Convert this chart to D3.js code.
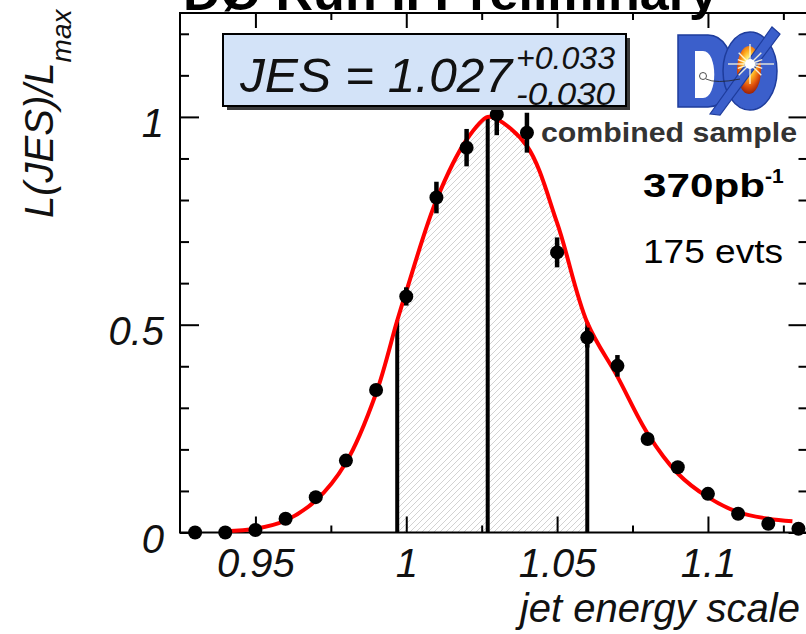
<!DOCTYPE html>
<html><head><meta charset="utf-8">
<script src="https://cdn.jsdelivr.net/npm/d3@7"></script>
<style>
html,body{margin:0;padding:0;background:#fff;}
svg{display:block;}
text{font-family:"Liberation Sans",Arial,Helvetica,sans-serif;}
</style></head>
<body>
<svg id="chart" width="806" height="634"></svg>
<script>
// Normalised likelihood scan vs. jet energy scale
const jesPoints     = [0.93, 0.94, 0.95, 0.96, 0.97, 0.98, 0.99, 1.00, 1.01, 1.02, 1.03,
                       1.04, 1.05, 1.06, 1.07, 1.08, 1.09, 1.10, 1.11, 1.12, 1.13];
const likelihood    = [0.000, 0.000, 0.006, 0.033, 0.085, 0.173, 0.343, 0.568, 0.806, 0.926, 1.006,
                       0.962, 0.674, 0.469, 0.401, 0.225, 0.157, 0.093, 0.045, 0.021, 0.009];
const likelihoodErr = [0.000, 0.000, 0.004, 0.006, 0.008, 0.010, 0.012, 0.022, 0.038, 0.045, 0.050,
                       0.048, 0.036, 0.024, 0.026, 0.012, 0.010, 0.008, 0.006, 0.004, 0.003];

// Fitted curve, sampled
const fitX = [0.94, 0.95, 0.96, 0.97, 0.98, 0.99, 0.997, 1.00, 1.01, 1.02, 1.027, 1.03,
              1.04, 1.05, 1.06, 1.07, 1.08, 1.09, 1.10, 1.11, 1.12, 1.128];
const fitY = [0.003, 0.009, 0.029, 0.077, 0.168, 0.335, 0.51, 0.58, 0.80, 0.945, 1.0, 0.995,
              0.93, 0.745, 0.505, 0.375, 0.238, 0.142, 0.085, 0.049, 0.033, 0.027];

// Fit result
const jesCentral = 1.027, jesErrUp = 0.033, jesErrDown = 0.030;

const xTickValues  = [0.95, 1, 1.05, 1.1];
const xTickLabels  = ["0.95", "1", "1.05", "1.1"];
const xMinorTicks  = [0.975, 1.025, 1.075, 1.125];
const yTickValues  = [0, 0.5, 1];
const yTickLabels  = ["0", "0.5", "1"];
const yMinorTicks  = [0.1, 0.2, 0.3, 0.4, 0.6, 0.7, 0.8, 0.9, 1.1, 1.2];

const svg = d3.select("#chart");
const L = 180, R = 807.5, T = 13, B = 532.5;
const x = d3.scaleLinear().domain([0.925, 1.133]).range([L, R]);
const y = d3.scaleLinear().domain([0, 1.25]).range([B, T]);

const defs = svg.append("defs");
const hatch = defs.append("pattern").attr("id", "hatch")
  .attr("patternUnits", "userSpaceOnUse").attr("width", 6).attr("height", 6);
hatch.append("path").attr("d", "M-1,1 l2,-2 M0,6 l6,-6 M5,7 l2,-2")
  .attr("stroke", "#c6c6c6").attr("stroke-width", 0.8);

const jesLo = jesCentral - jesErrDown, jesHi = jesCentral + jesErrUp;
defs.append("clipPath").attr("id", "band").append("rect")
  .attr("x", x(jesLo)).attr("y", T).attr("width", x(jesHi) - x(jesLo)).attr("height", B - T);

const fit = fitX.map((v, i) => ({x: v, y: fitY[i]}));
const curveAt = v => fit.reduce((a, b) => Math.abs(b.x - v) < Math.abs(a.x - v) ? b : a).y;

// hatched ±1σ band under the fit
svg.append("path").datum(fit)
  .attr("clip-path", "url(#band)")
  .attr("fill", "url(#hatch)")
  .attr("d", d3.area().x(d => x(d.x)).y0(B).y1(d => y(d.y)).curve(d3.curveCatmullRom.alpha(0.5)));

// axes
function styleAxis(g) {
  g.select(".domain").remove();
  g.selectAll("line").attr("stroke", "#000").attr("stroke-width", 2);
  g.selectAll("text").attr("font-size", 40).attr("font-style", "italic").attr("fill", "#111")
    .attr("font-family", "Liberation Sans, Arial, sans-serif");
}
svg.append("g").attr("transform", `translate(0,${B})`)
  .call(d3.axisBottom(x).tickValues(xTickValues).tickSize(-16).tickPadding(16)
    .tickFormat((d, i) => xTickLabels[i])).call(styleAxis);
svg.append("g").attr("transform", `translate(0,${B})`)
  .call(d3.axisBottom(x).tickValues(xMinorTicks).tickSize(-7).tickFormat("")).call(styleAxis);
svg.append("g").attr("transform", `translate(0,${T})`)
  .call(d3.axisTop(x).tickValues(xTickValues).tickSize(-15).tickFormat("")).call(styleAxis);
svg.append("g").attr("transform", `translate(0,${T})`)
  .call(d3.axisTop(x).tickValues(xMinorTicks).tickSize(-7).tickFormat("")).call(styleAxis);

const gy = svg.append("g").attr("transform", `translate(${L},0)`)
  .call(d3.axisLeft(y).tickValues(yTickValues).tickSize(-19).tickPadding(16)
    .tickFormat((d, i) => yTickLabels[i])).call(styleAxis);
gy.selectAll("text").attr("dy", "0.5em");
svg.append("g").attr("transform", `translate(${L},0)`)
  .call(d3.axisLeft(y).tickValues(yMinorTicks).tickSize(-9).tickFormat("")).call(styleAxis);
svg.append("g").attr("transform", `translate(${R},0)`)
  .call(d3.axisRight(y).tickValues(yTickValues).tickSize(-19).tickFormat("")).call(styleAxis);
svg.append("g").attr("transform", `translate(${R},0)`)
  .call(d3.axisRight(y).tickValues(yMinorTicks).tickSize(-9).tickFormat("")).call(styleAxis);

// frame
svg.append("rect").attr("x", L).attr("y", T).attr("width", R - L).attr("height", B - T)
  .attr("fill", "none").attr("stroke", "#000").attr("stroke-width", 2);

// central value and ±1σ markers
[jesLo, jesCentral, jesHi].forEach(v => {
  svg.append("line").attr("x1", x(v)).attr("x2", x(v)).attr("y1", B).attr("y2", y(curveAt(v)))
    .attr("stroke", "#000").attr("stroke-width", 4);
});

// fit curve
svg.append("path").datum(fit)
  .attr("fill", "none").attr("stroke", "#f00").attr("stroke-width", 4)
  .attr("d", d3.line().x(d => x(d.x)).y(d => y(d.y)).curve(d3.curveCatmullRom.alpha(0.5)));

// data points with error bars
const pts = jesPoints.map((v, i) => ({x: v, y: likelihood[i], e: likelihoodErr[i]}));
svg.append("g").selectAll("line").data(pts.filter(d => d.e > 0)).join("line")
  .attr("x1", d => x(d.x)).attr("x2", d => x(d.x))
  .attr("y1", d => y(d.y - d.e)).attr("y2", d => y(d.y + d.e))
  .attr("stroke", "#000").attr("stroke-width", 4.5);
svg.append("g").selectAll("circle").data(pts).join("circle")
  .attr("cx", d => x(d.x)).attr("cy", d => y(d.y)).attr("r", 7).attr("fill", "#000");

// result box
svg.append("rect").attr("x", 227).attr("y", 38).attr("width", 403).attr("height", 72).attr("fill", "#3a3a3a");
svg.append("rect").attr("x", 223).attr("y", 34).attr("width", 403).attr("height", 72)
  .attr("fill", "#d3e3f8").attr("stroke", "#000").attr("stroke-width", 2);
svg.append("text").attr("x", 240).attr("y", 92).attr("font-size", 49).attr("font-style", "italic")
  .attr("fill", "#111").attr("textLength", 272).attr("lengthAdjust", "spacingAndGlyphs")
  .text(`JES = ${jesCentral.toFixed(3)}`);
svg.append("text").attr("x", 516).attr("y", 69).attr("font-size", 31).attr("font-style", "italic")
  .attr("fill", "#111").attr("textLength", 99).attr("lengthAdjust", "spacingAndGlyphs")
  .text(`+${jesErrUp.toFixed(3)}`);
svg.append("text").attr("x", 516).attr("y", 105).attr("font-size", 31).attr("font-style", "italic")
  .attr("fill", "#111").attr("textLength", 99).attr("lengthAdjust", "spacingAndGlyphs")
  .text(`-${jesErrDown.toFixed(3)}`);

// title (runs off the top edge)
svg.append("text").attr("x", 183).attr("y", 10).attr("font-size", 50).attr("font-weight", "bold")
  .attr("fill", "#000").attr("textLength", 535).attr("lengthAdjust", "spacingAndGlyphs")
  .text("DØ Run II Preliminary");

// axis titles
svg.append("text").attr("x", 800).attr("y", 622).attr("text-anchor", "end")
  .attr("font-size", 40).attr("font-style", "italic").attr("fill", "#111").text("jet energy scale");
const yt = svg.append("text").attr("transform", "translate(53,218) rotate(-90)")
  .attr("font-size", 40).attr("font-style", "italic").attr("fill", "#111");
yt.append("tspan").text("L(JES)/L");
yt.append("tspan").attr("font-size", 28).attr("dy", 18).text("max");

// annotations
svg.append("text").attr("x", 541).attr("y", 142).attr("font-size", 28).attr("font-weight", "bold")
  .attr("fill", "#333").attr("textLength", 256).attr("lengthAdjust", "spacingAndGlyphs")
  .text("combined sample");
const lum = svg.append("text").attr("x", 643).attr("y", 197).attr("font-weight", "bold")
  .attr("font-family", "DejaVu Sans, sans-serif").attr("fill", "#000");
lum.append("tspan").attr("font-size", 34).attr("textLength", 122).attr("lengthAdjust", "spacingAndGlyphs").text("370pb");
lum.append("tspan").attr("font-size", 21).attr("dy", -14).text("-1");
svg.append("text").attr("x", 643).attr("y", 263).attr("font-size", 34)
  .attr("font-family", "DejaVu Sans, sans-serif").attr("fill", "#000")
  .attr("textLength", 140).attr("lengthAdjust", "spacingAndGlyphs").text("175 evts");

// DØ logo
const logo = svg.append("g");
const glow = defs.append("radialGradient").attr("id", "core").attr("cx", "50%").attr("cy", "38%").attr("r", "62%");
glow.append("stop").attr("offset", "0%").attr("stop-color", "#ffffff");
glow.append("stop").attr("offset", "22%").attr("stop-color", "#fff07a");
glow.append("stop").attr("offset", "45%").attr("stop-color", "#ffb020");
glow.append("stop").attr("offset", "75%").attr("stop-color", "#e0500c");
glow.append("stop").attr("offset", "100%").attr("stop-color", "#9a2208");
logo.append("path").attr("d", "M678,35 L708,35 C740,35 742,107 708,107 L678,107 Z")
  .attr("fill", "#3b5fcb").attr("stroke", "#1e3c9c").attr("stroke-width", 1.5);
logo.append("path").attr("d", "M695,51 L703,51 C718,51 718,98 703,98 L695,98 Z").attr("fill", "#fff");
logo.append("ellipse").attr("cx", 750).attr("cy", 71).attr("rx", 27).attr("ry", 39)
  .attr("fill", "#3b5fcb").attr("stroke", "#1e3c9c").attr("stroke-width", 1.5);
logo.append("ellipse").attr("cx", 749).attr("cy", 70).attr("rx", 12).attr("ry", 24).attr("fill", "url(#core)");
logo.append("path").attr("d", "M710,114 L720,115 L780,34 L772,27 Z")
  .attr("fill", "#3b5fcb").attr("stroke", "#1e3c9c").attr("stroke-width", 1.2);
const rays = [[0, 24], [45, 16], [90, 20], [135, 16], [180, 22], [225, 16], [270, 20], [315, 16], [20, 13], [160, 13], [200, 13], [340, 13]];
rays.forEach(([a, len]) => {
  const r = a * Math.PI / 180;
  logo.append("line").attr("x1", 750).attr("y1", 64)
    .attr("x2", 750 + Math.cos(r) * len).attr("y2", 64 + Math.sin(r) * len)
    .attr("stroke", "#fffbe0").attr("stroke-width", 1.4).attr("opacity", 0.9);
});
logo.append("circle").attr("cx", 750).attr("cy", 64).attr("r", 5).attr("fill", "#fff");
logo.append("circle").attr("cx", 703).attr("cy", 76).attr("r", 3.5).attr("fill", "none").attr("stroke", "#222").attr("stroke-width", 0.8);
logo.append("path").attr("d", "M706,79 Q716,84 740,79").attr("fill", "none").attr("stroke", "#222").attr("stroke-width", 0.8);
</script>
</body></html>
